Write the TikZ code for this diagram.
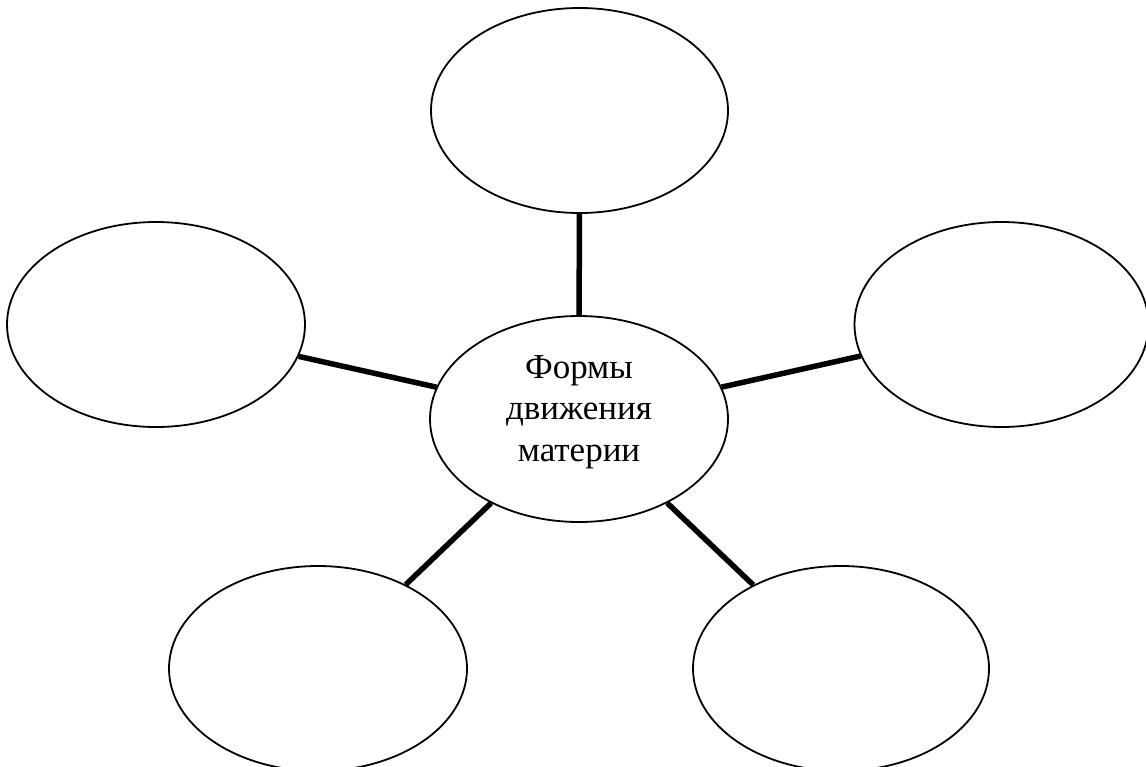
\documentclass[tikz,border=0pt]{standalone}
\usepackage{fontspec}
\setmainfont{Liberation Serif}
\usetikzlibrary{shapes.geometric}
\begin{document}
\begin{tikzpicture}[x=1pt,y=-1pt,
  oval/.style={draw=black, line width=1.8pt, ellipse, inner sep=0pt, minimum width=297pt, minimum height=205pt},
  link/.style={draw=black, line width=5.5pt},
  lbl/.style={align=center, font=\fontsize{35}{41.5}\selectfont, inner sep=0pt}]
\clip (0,0) rectangle (1146,766);
\useasboundingbox (0,0) rectangle (1146,766);
\fill[white] (0,0) rectangle (1146,766);
\node[oval] (T) at (579.5,110.5) {};
\node[oval, minimum width=298pt] (L) at (156,324.5) {};
\node[oval, minimum width=294pt] (R) at (1001.5,324.5) {};
\node[oval, minimum width=298pt, minimum height=206pt] (C) at (579,419) {};
\node[oval, minimum width=298pt] (BL) at (318,668.5) {};
\node[oval, minimum width=296pt] (BR) at (841,668.5) {};
\node[lbl] (Ct) at (579,412) {Формы\\движения\\материи};
\draw[link] (C) -- (T);
\draw[link] (C) -- (L);
\draw[link] (C) -- (R);
\draw[link] (C) -- (BL);
\draw[link] (C) -- (BR);
\end{tikzpicture}
\end{document}
